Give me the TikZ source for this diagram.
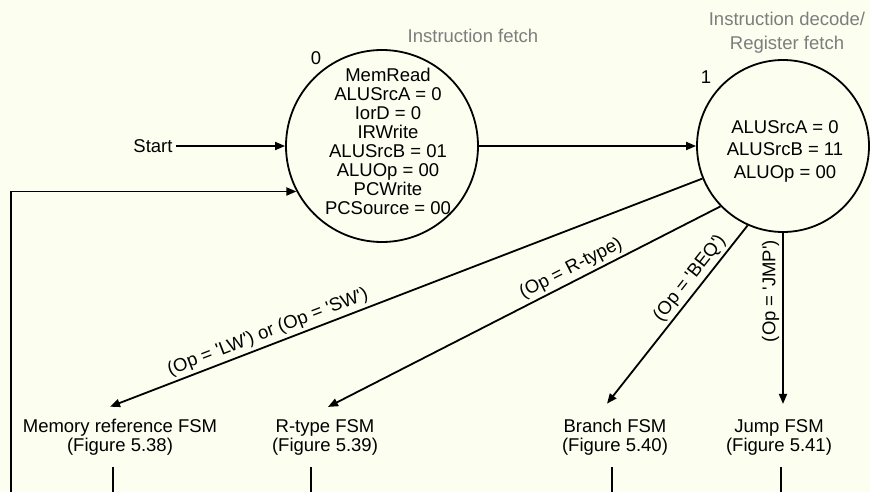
\documentclass[tikz,border=0pt]{standalone}
\usepackage{fontspec}
\setmainfont{Liberation Sans}
\usetikzlibrary{arrows.meta,calc}
\definecolor{paper}{RGB}{252,254,240}
\definecolor{phase}{RGB}{125,125,125}
\begin{document}
\begin{tikzpicture}[x=1pt,y=-1pt,
  every node/.style={font=\fontsize{18.5}{19}\selectfont},
  wire/.style={line width=1.8pt},
  arr/.style={wire,-{Triangle[length=10pt,width=8pt]}},
  stateshape/.style={circle,draw,line width=1.8pt,inner sep=0pt,minimum size=#1},
  ops/.style={align=center,inner sep=0pt},
  phaselabel/.style={text=phase,align=center,inner sep=0pt},
  fsmlabel/.style={align=center,inner xsep=0pt,inner ysep=12pt},
  cond/.style={sloped,above,inner sep=3pt}
]
% page
\fill[paper] (0,0) rectangle (870,492);
\useasboundingbox (0,0) rectangle (870,492);

% states
\node[stateshape=192pt] (s0) at (382,146) {};
\node[ops] (s0ops) at (388,141.5)
  {MemRead\\ALUSrcA = 0\\IorD = 0\\IRWrite\\ALUSrcB = 01\\ALUOp = 00\\PCWrite\\PCSource = 00};
\node[inner sep=0pt] (s0num) at (316,58) {0};
\node[phaselabel] (s0phase) at (473,36) {Instruction fetch};

\node[stateshape=172pt] (s1) at (783,146) {};
\node[ops,font=\fontsize{18.5}{22.5}\selectfont] (s1ops) at (785,151)
  {ALUSrcA = 0\\ALUSrcB = 11\\ALUOp = 00};
\node[inner sep=0pt] (s1num) at (706,77) {1};
\node[phaselabel,font=\fontsize{18.5}{24}\selectfont] (s1phase) at (787,33)
  {Instruction decode/\\Register fetch};

% start and return path
\node (start) at (153,146) {Start};
\draw[arr] (start.east) -- (s0.west);
\coordinate (loopfoot) at (11,500);
\draw[arr] (loopfoot) |- (s0.208);

% fetch -> decode
\draw[arr] (s0.east) -- (s1.west);

% sub-machines
\node[fsmlabel] (memfsm) at (120,437) {Memory reference FSM\\(Figure 5.38)};
\node[fsmlabel] (rfsm) at (325,437) {R-type FSM\\(Figure 5.39)};
\node[fsmlabel] (brfsm) at (615,437) {Branch FSM\\(Figure 5.40)};
\node[fsmlabel] (jfsm) at (779,437) {Jump FSM\\(Figure 5.41)};

\draw[arr] (s1.202) -- ([xshift=-10pt]memfsm.north)
  node[cond,pos=0.726] {(Op = \textquotesingle LW\textquotesingle) or (Op = \textquotesingle SW\textquotesingle)};
\draw[arr] (s1.224) -- ([xshift=3pt]rfsm.north)
  node[cond,pos=0.366] {(Op = R-type)};
\draw[arr] (s1.246) -- ([xshift=-8pt,yshift=3pt]brfsm.north)
  node[cond,pos=0.34] {(Op = \textquotesingle BEQ\textquotesingle)};
\draw[arr] (s1.south) -- ([yshift=3pt]s1.south |- jfsm.north)
  node[rotate=90,anchor=south,inner sep=3pt,pos=0.34] {(Op = \textquotesingle JMP\textquotesingle)};

% exits back toward the fetch state
\coordinate (memexit) at (113,500);
\coordinate (rexit) at (311,500);
\coordinate (brexit) at (612,500);
\coordinate (jexit) at (781,500);
\draw[wire] (memfsm.south -| memexit) -- (memexit);
\draw[wire] (rfsm.south -| rexit) -- (rexit);
\draw[wire] (brfsm.south -| brexit) -- (brexit);
\draw[wire] (jfsm.south -| jexit) -- (jexit);
\end{tikzpicture}
\end{document}
